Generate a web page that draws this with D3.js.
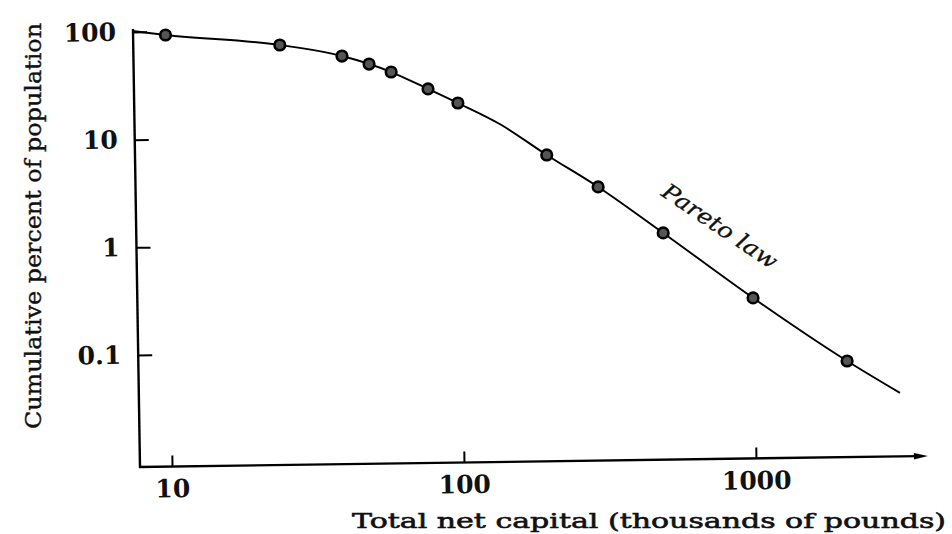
<!DOCTYPE html>
<html>
<head>
<meta charset="utf-8">
<script src="https://cdn.jsdelivr.net/npm/d3@7"></script>
<style>
  html, body { margin: 0; padding: 0; background: #fff; }
  svg { display: block; }
  text { font-family: "DejaVu Serif", "Liberation Serif", serif; fill: #111; }
</style>
</head>
<body>
<svg id="chart" width="952" height="534"></svg>
<script>
// Wealth distribution: total net capital vs. cumulative percent of population
const capital = [9.5, 23.4, 38.2, 47.3, 56.3, 75.3, 95.3, 192, 288, 481, 977, 2051];
const percent = [93.8, 75.7, 59.8, 50.4, 42.5, 29.6, 21.9, 7.21, 3.64, 1.36, 0.339, 0.088];

// Smooth fitted curve (ends in the Pareto straight line)
const curveCapital = [7.35, 9.5, 23.4, 38.2, 56.3, 75.3, 95.3, 133, 192, 288, 481, 977, 2051, 3112];
const curvePercent = [102, 93.8, 75.7, 59.8, 42.5, 29.6, 21.9, 13.9, 7.21, 3.64, 1.36, 0.339, 0.088, 0.0445];

const xTicks = [10, 100, 1000];
const xTickLabels = ["10", "100", "1000"];
const yTicks = [0.1, 1, 10, 100];
const yTickLabels = ["0.1", "1", "10", "100"];

const xTitle = "Total net capital (thousands of pounds)";
const yTitle = "Cumulative percent of population";
const lawLabel = "Pareto law";

const svg = d3.select("#chart");

const x = d3.scaleLog().domain([10, 1000]).range([172, 756]);
const y = d3.scaleLog().domain([0.1, 100]).range([355, 32]);

// axis frame corner
const ox = 140, oy = 467;

// x axis, short inward ticks
const gx = svg.append("g")
  .attr("transform", `translate(0,${oy}) rotate(-0.8, ${ox}, 0)`);
gx.call(d3.axisBottom(x)
    .tickValues(xTicks)
    .tickFormat((d, i) => xTickLabels[i])
    .tickSizeInner(-11)
    .tickSizeOuter(0)
    .tickPadding(13));
gx.select(".domain").remove();
gx.append("line")
  .attr("x1", ox - 1).attr("x2", 918)
  .attr("y1", 0).attr("y2", 0)
  .attr("stroke", "#000").attr("stroke-width", 2.4);
gx.append("path")
  .attr("d", "M914,-3.2 L928,0 L914,3.2 Z")
  .attr("fill", "#000");

// y axis, short inward ticks
const gy = svg.append("g")
  .attr("transform", `translate(${ox},0) rotate(-0.92, 0, ${oy})`);
gy.call(d3.axisLeft(y)
    .tickValues(yTicks)
    .tickFormat((d, i) => yTickLabels[i])
    .tickSizeInner(-14)
    .tickSizeOuter(0)
    .tickPadding(17));
gy.select(".domain").remove();
gy.append("line")
  .attr("x1", 0).attr("x2", 0)
  .attr("y1", 29).attr("y2", oy + 1)
  .attr("stroke", "#000").attr("stroke-width", 2.4);

[gx, gy].forEach(g => {
  g.selectAll(".tick line")
    .attr("stroke", "#000")
    .attr("stroke-width", 2);
  g.selectAll(".tick text")
    .attr("fill", "#111")
    .style("font-family", "'DejaVu Serif', serif")
    .style("font-size", "25px")
    .style("font-weight", "bold");
});

// fitted curve
const line = d3.line()
  .x(d => x(d[0]))
  .y(d => y(d[1]))
  .curve(d3.curveMonotoneX);
svg.append("path")
  .datum(curveCapital.map((c, i) => [c, curvePercent[i]]))
  .attr("d", line)
  .attr("fill", "none")
  .attr("stroke", "#000")
  .attr("stroke-width", 1.9);

// observed points
svg.append("g")
  .selectAll("circle")
  .data(capital.map((c, i) => [c, percent[i]]))
  .join("circle")
  .attr("cx", d => x(d[0]))
  .attr("cy", d => y(d[1]))
  .attr("r", 5.3)
  .attr("fill", "#555")
  .attr("stroke", "#000")
  .attr("stroke-width", 2.6);

// Pareto law label along the straight segment
svg.append("text")
  .attr("transform", "translate(660,195) rotate(34)")
  .attr("textLength", 134)
  .attr("lengthAdjust", "spacingAndGlyphs")
  .style("font-size", "22px")
  .style("font-style", "italic")
  .style("stroke", "#111")
  .style("stroke-width", 0.3)
  .text(lawLabel);

// axis titles
svg.append("text")
  .attr("x", 352).attr("y", 528)
  .attr("textLength", 594)
  .attr("lengthAdjust", "spacingAndGlyphs")
  .style("font-size", "21px")
  .style("stroke", "#111")
  .style("stroke-width", 0.6)
  .text(xTitle);

svg.append("text")
  .attr("transform", "translate(41,226) rotate(-90)")
  .attr("text-anchor", "middle")
  .attr("textLength", 406)
  .attr("lengthAdjust", "spacingAndGlyphs")
  .style("font-size", "23px")
  .style("stroke", "#111")
  .style("stroke-width", 0.4)
  .text(yTitle);
</script>
</body>
</html>
